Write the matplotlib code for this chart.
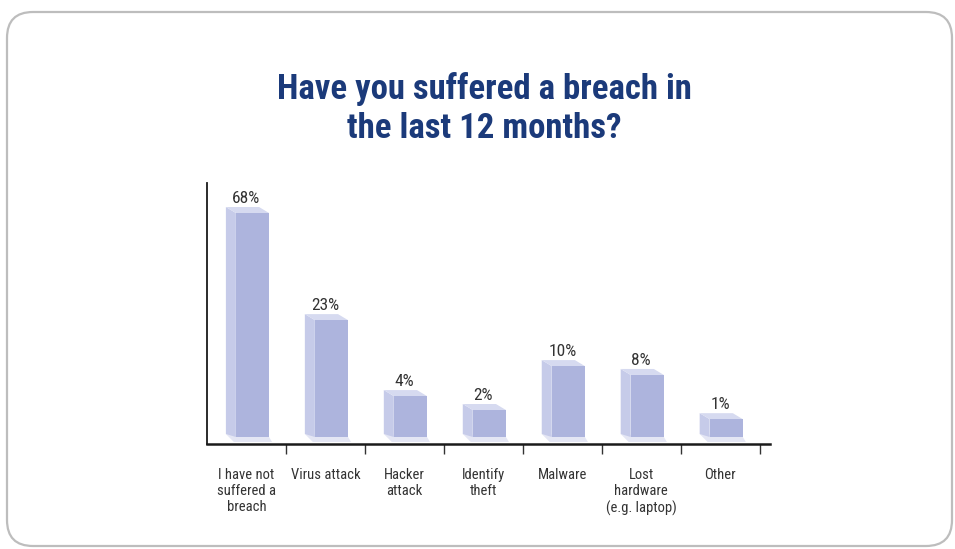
import numpy as np
import matplotlib.pyplot as plt
from matplotlib import font_manager
from matplotlib.patches import FancyBboxPatch, Polygon

categories = ["I have not\nsuffered a\nbreach", "Virus attack", "Hacker\nattack",
              "Identify\ntheft", "Malware", "Lost\nhardware\n(e.g. laptop)", "Other"]
values = [68, 23, 4, 2, 10, 8, 1]
value_labels = ["68%", "23%", "4%", "2%", "10%", "8%", "1%"]

# pick a narrow sans if one is installed
installed = {f.name for f in font_manager.fontManager.ttflist}
narrow = [n for n in ('Liberation Sans Narrow', 'Roboto Condensed', 'Open Sans Condensed',
                      'DejaVu Sans Condensed') if n in installed]
FONT = narrow[:1] + ['DejaVu Sans']
STRETCH = 'normal' if narrow else 'condensed'

front_col = '#adb4dd'
side_col = '#c6cbe9'
top_col = '#d6daf0'
shadow_col = '#e4e6f4'

# power scale so the small bars stay visible
p = 0.6
def fwd(y):
    return np.sign(y) * np.abs(y) ** p
def inv(y):
    return np.sign(y) * np.abs(y) ** (1 / p)

fig = plt.figure(figsize=(9.55, 5.49), dpi=100)

# rounded card behind everything (pixel coords)
card = FancyBboxPatch((7, 3), 945, 534, boxstyle="round,pad=0,rounding_size=26",
                      transform=None, facecolor='white', edgecolor='#bdbdbd', linewidth=1.6,
                      zorder=-5)
fig.add_artist(card)

fig.text(0.507, 0.802, "Have you suffered a breach in\nthe last 12 months?", ha='center', va='center',
         fontsize=25, fontweight='bold', color='#1b3a7a', family=FONT, fontstretch=STRETCH,
         linespacing=1.22)

W, H = 955, 549
ax_h = 261
ax = fig.add_axes([207 / W, 105 / H, 563 / W, ax_h / H], zorder=2)
ax.set_facecolor('none')
ax.set_yscale('function', functions=(fwd, inv))

unit = 224 / fwd(68)        # pixels per scaled unit
gap = 7                     # bars stand a little above the axis line
ax.set_ylim(inv(-gap / unit), inv((ax_h - gap) / unit))
ax.set_xlim(-0.5, 6.63)

x = np.arange(len(values))
off = 6 / 79
width = 0.42
bars = ax.bar(x + off, values, width=width, color=front_col, zorder=3)

fig.canvas.draw()
dx, dy = 10, 6
to_data = ax.transData.inverted()
for b in bars:
    x0, x1 = b.get_x(), b.get_x() + b.get_width()
    (px0, py0), (px1, py1) = ax.transData.transform([(x0, 0), (x1, b.get_height())])
    side = [(px0, py0), (px0, py1), (px0 - dx, py1 + dy), (px0 - dx, py0 + 3)]
    top = [(px0, py1), (px1, py1), (px1 - dx, py1 + dy), (px0 - dx, py1 + dy)]
    shadow = [(px0 - dx, py0 + 3), (px1, py0), (px1 + 3, py0 - 5), (px0 - 2, py0 - 5)]
    for pts, col in ((shadow, shadow_col), (side, side_col), (top, top_col)):
        ax.add_patch(Polygon(to_data.transform(pts), closed=True, facecolor=col,
                             edgecolor='none', zorder=2, clip_on=False))

for xi, v, lab in zip(x, values, value_labels):
    ax.annotate(lab, (xi, v), xytext=(0, 5), textcoords='offset points', ha='center', va='bottom',
                fontsize=12.5, color='#333333', family=FONT, fontstretch=STRETCH)

for s in ('top', 'right'):
    ax.spines[s].set_visible(False)
ax.spines['bottom'].set_linewidth(1.8)
ax.spines['left'].set_linewidth(1.3)
ax.spines['bottom'].set_color('#1a1a1a')
ax.spines['left'].set_color('#1a1a1a')
ax.set_yticks([])
ax.minorticks_off()

ax.set_xticks(np.arange(0.5, 7, 1), [''] * 7)
ax.set_xticks(x, categories, minor=True)
ax.tick_params(axis='x', which='major', direction='out', length=7.5, width=1.0, color='#333333')
ax.tick_params(axis='x', which='minor', length=0, pad=17)
for t in ax.get_xticklabels(minor=True):
    t.set_family(FONT)
    t.set_fontstretch(STRETCH)
    t.set_fontsize(10.5)
    t.set_color('#333333')
    t.set_verticalalignment('top')
    t.set_linespacing(1.22)

fig.savefig('out.png', dpi=100)
